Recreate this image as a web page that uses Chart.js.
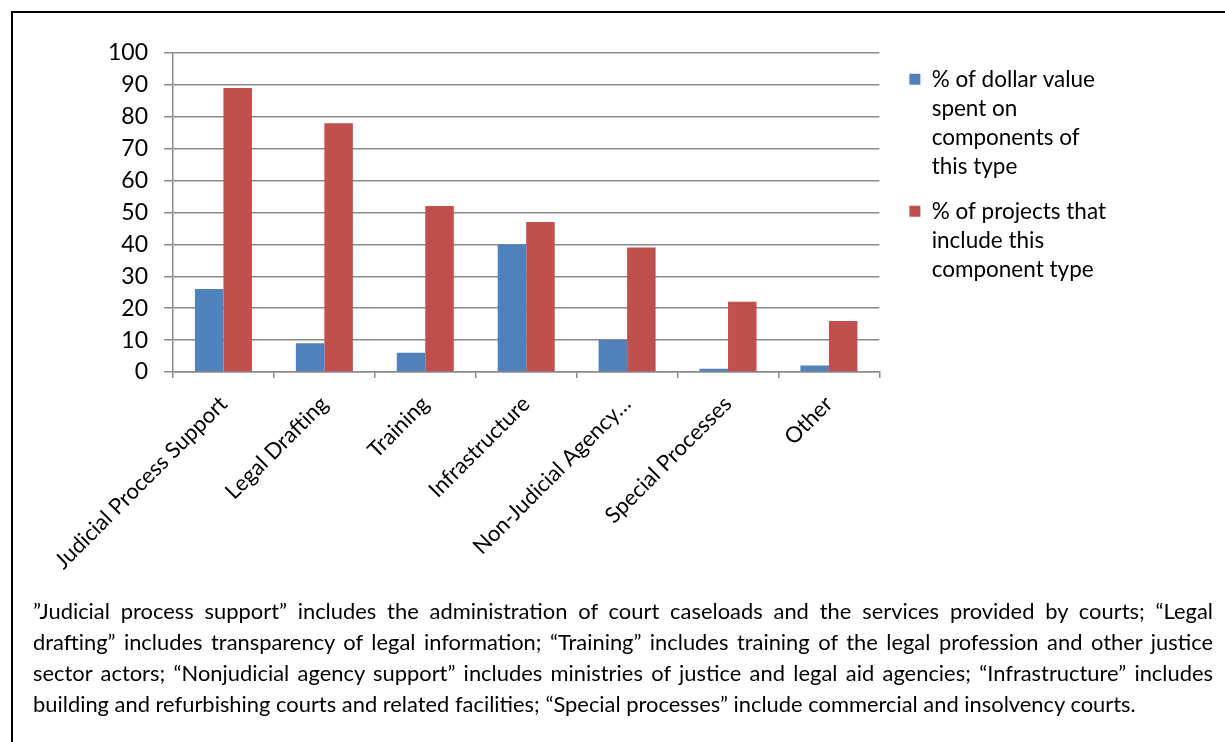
<!DOCTYPE html>
<html>
<head>
<meta charset="utf-8">
<script src="https://cdn.jsdelivr.net/npm/chart.js@4.4.1/dist/chart.umd.min.js"></script>
<style>
    html, body { margin: 0; padding: 0; background: #fff; overflow: hidden; }
    body { width: 1225px; height: 742px; position: relative; }
    .frame {
        position: absolute; left: 11px; top: 11px; width: 1400px; height: 900px;
        border-left: 2px solid #000; border-top: 2px solid #000;
    }
    #chart { position: absolute; left: 0; top: 0; }
    .note {
        position: absolute; left: 33px; top: 595px; width: 1180px;
        font-family: Lato, sans-serif; font-size: 21.9px; line-height: 31px; color: #000;
    }
    .note div { text-align: justify; text-align-last: justify; white-space: nowrap; }
    .note div.last { text-align: left; text-align-last: left; }
</style>
</head>
<body>
<div class="frame"></div>
<canvas id="chart" width="1225" height="600"></canvas>
<div class="note" id="note"></div>
<script>
const categories = ['Judicial Process Support', 'Legal Drafting', 'Training', 'Infrastructure',
    'Non-Judicial Agency Support', 'Special Processes', 'Other'];
const dollarShare = [26, 9, 6, 40, 10, 1, 2];
const projectShare = [89, 78, 52, 47, 39, 22, 16];
const seriesLabels = ['% of dollar value spent on components of this type',
    '% of projects that include this component type'];
const legendLines = [
    ['% of dollar value', 'spent on', 'components of', 'this type'],
    ['% of projects that', 'include this', 'component type']
];
const noteLines = [
    '\u201DJudicial process support\u201D includes the administration of court caseloads and the services provided by courts; \u201CLegal',
    'drafting\u201D includes transparency of legal information; \u201CTraining\u201D includes training of the legal profession and other justice',
    'sector actors; \u201CNonjudicial agency support\u201D includes ministries of justice and legal aid agencies; \u201CInfrastructure\u201D includes',
    'building and refurbishing courts and related facilities; \u201CSpecial processes\u201D include commercial and insolvency courts.'
];

const gridGray = '#8a8a8a';

// footnote under the chart, one div per line so the breaks match
const note = document.getElementById('note');
noteLines.forEach((line, i) => {
    const d = document.createElement('div');
    d.textContent = line;
    if (i === noteLines.length - 1) d.className = 'last';
    note.appendChild(d);
});

const ctx = document.getElementById('chart').getContext('2d');
new Chart(ctx, {
    type: 'bar',
    data: {
        labels: categories,
        datasets: [{
            label: seriesLabels[0],
            data: dollarShare,
            backgroundColor: '#4F81BD',
            borderWidth: 0
        }, {
            label: seriesLabels[1],
            data: projectShare,
            backgroundColor: '#C0504D',
            borderWidth: 0
        }]
    },
    options: {
        responsive: false,
        animation: false,
        devicePixelRatio: 1,
        categoryPercentage: 0.565,
        barPercentage: 1,
        layout: { padding: { top: 53, left: 0, bottom: 0, right: 109 } },
        scales: {
            x: {
                grid: { drawOnChartArea: false, drawTicks: true, tickLength: 6, color: gridGray, lineWidth: 1.5 },
                border: { color: gridGray, width: 1.5 },
                ticks: {
                    color: '#000',
                    font: { family: 'Lato', size: 22 },
                    minRotation: 45,
                    maxRotation: 45,
                    autoSkip: false,
                    padding: 13,
                    callback: function (value) {
                        const s = this.getLabelForValue(value);
                        return s.length > 24 ? s.slice(0, 19) + '\u2026' : s;
                    }
                },
                afterFit: scale => { scale.height = 228; }
            },
            y: {
                min: 0,
                max: 100,
                grid: { color: gridGray, lineWidth: 1.5, tickLength: 9 },
                border: { color: gridGray, width: 1.5 },
                ticks: {
                    stepSize: 10,
                    color: '#000',
                    padding: 16,
                    font: { family: 'Lato', size: 23 }
                },
                afterFit: scale => { scale.width = 173; }
            },
            // empty axis, only keeps a gap between the plot and the legend
            gap: {
                type: 'linear',
                axis: 'y',
                position: 'right',
                grid: { display: false },
                border: { display: false },
                ticks: { display: false },
                afterFit: scale => { scale.width = 15; }
            }
        },
        plugins: {
            tooltip: { enabled: false },
            legend: {
                position: 'right',
                align: 'start',
                maxWidth: 400,
                labels: {
                    color: '#000',
                    boxWidth: 11,
                    boxHeight: 11,
                    padding: 15,
                    font: { family: 'Lato', size: 22.5, lineHeight: 1.3 },
                    generateLabels: chart => Chart.defaults.plugins.legend.labels.generateLabels(chart)
                        .map((item, i) => ({ ...item, lineWidth: 0, text: legendLines[i] }))
                }
            }
        }
    }
});
</script>
</body>
</html>
